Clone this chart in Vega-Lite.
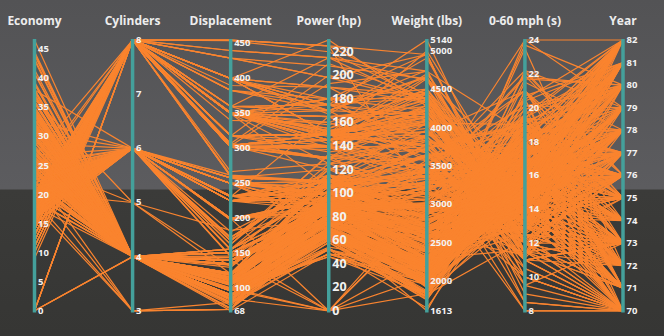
{
  "$schema": "https://vega.github.io/schema/vega-lite/v6.json",
  "width": 664,
  "height": 336,
  "autosize": {"type": "none"},
  "padding": 0,
  "background": "#474748",
  "config": {
    "view": {
      "stroke": null,
      "fill": {
        "gradient": "linear", "x1": 0, "y1": 0, "x2": 0, "y2": 1,
        "stops": [
          {"offset": 0, "color": "#535355"},
          {"offset": 0.562, "color": "#5c5c5f"},
          {"offset": 0.566, "color": "#3b3b39"},
          {"offset": 1, "color": "#363634"}
        ]
      }
    },
    "text": {"font": "Open Sans"}
  },
  "datasets": {
    "axes": [
      {"field": "mpg", "title": "Economy", "pos": 0, "lo": 0, "hi": 46.6},
      {"field": "cyl", "title": "Cylinders", "pos": 1, "lo": 3, "hi": 8},
      {"field": "disp", "title": "Displacement", "pos": 2, "lo": 68, "hi": 455},
      {"field": "hp", "title": "Power (hp)", "pos": 3, "lo": 0, "hi": 230},
      {"field": "wt", "title": "Weight (lbs)", "pos": 4, "lo": 1613, "hi": 5140},
      {"field": "acc", "title": "0-60 mph (s)", "pos": 5, "lo": 8, "hi": 24},
      {"field": "yr", "title": "Year", "pos": 6, "lo": 70, "hi": 82}
    ],
    "ticks": [
      {"field": "mpg", "v": 0}, {"field": "mpg", "v": 5}, {"field": "mpg", "v": 10}, {"field": "mpg", "v": 15}, {"field": "mpg", "v": 20},
      {"field": "mpg", "v": 25}, {"field": "mpg", "v": 30}, {"field": "mpg", "v": 35}, {"field": "mpg", "v": 40}, {"field": "mpg", "v": 45},
      {"field": "cyl", "v": 3}, {"field": "cyl", "v": 4}, {"field": "cyl", "v": 5}, {"field": "cyl", "v": 6}, {"field": "cyl", "v": 7}, {"field": "cyl", "v": 8},
      {"field": "disp", "v": 68}, {"field": "disp", "v": 100}, {"field": "disp", "v": 150}, {"field": "disp", "v": 200}, {"field": "disp", "v": 250},
      {"field": "disp", "v": 300}, {"field": "disp", "v": 350}, {"field": "disp", "v": 400}, {"field": "disp", "v": 450},
      {"field": "hp", "v": 0}, {"field": "hp", "v": 20}, {"field": "hp", "v": 40}, {"field": "hp", "v": 60}, {"field": "hp", "v": 80}, {"field": "hp", "v": 100},
      {"field": "hp", "v": 120}, {"field": "hp", "v": 140}, {"field": "hp", "v": 160}, {"field": "hp", "v": 180}, {"field": "hp", "v": 200}, {"field": "hp", "v": 220},
      {"field": "wt", "v": 1613}, {"field": "wt", "v": 2000}, {"field": "wt", "v": 2500}, {"field": "wt", "v": 3000}, {"field": "wt", "v": 3500},
      {"field": "wt", "v": 4000}, {"field": "wt", "v": 4500}, {"field": "wt", "v": 5000}, {"field": "wt", "v": 5140},
      {"field": "acc", "v": 8}, {"field": "acc", "v": 10}, {"field": "acc", "v": 12}, {"field": "acc", "v": 14}, {"field": "acc", "v": 16},
      {"field": "acc", "v": 18}, {"field": "acc", "v": 20}, {"field": "acc", "v": 22}, {"field": "acc", "v": 24},
      {"field": "yr", "v": 70}, {"field": "yr", "v": 71}, {"field": "yr", "v": 72}, {"field": "yr", "v": 73}, {"field": "yr", "v": 74}, {"field": "yr", "v": 75},
      {"field": "yr", "v": 76}, {"field": "yr", "v": 77}, {"field": "yr", "v": 78}, {"field": "yr", "v": 79}, {"field": "yr", "v": 80}, {"field": "yr", "v": 81}, {"field": "yr", "v": 82}
    ],
    "cars": [
      {"mpg":18,"cyl":8,"disp":307,"hp":130,"wt":3504,"acc":12,"yr":70},
      {"mpg":15,"cyl":8,"disp":350,"hp":165,"wt":3693,"acc":11.5,"yr":70},
      {"mpg":18,"cyl":8,"disp":318,"hp":150,"wt":3436,"acc":11,"yr":70},
      {"mpg":16,"cyl":8,"disp":304,"hp":150,"wt":3433,"acc":12,"yr":70},
      {"mpg":17,"cyl":8,"disp":302,"hp":140,"wt":3449,"acc":10.5,"yr":70},
      {"mpg":15,"cyl":8,"disp":429,"hp":198,"wt":4341,"acc":10,"yr":70},
      {"mpg":14,"cyl":8,"disp":454,"hp":220,"wt":4354,"acc":9,"yr":70},
      {"mpg":14,"cyl":8,"disp":440,"hp":215,"wt":4312,"acc":8.5,"yr":70},
      {"mpg":14,"cyl":8,"disp":455,"hp":225,"wt":4425,"acc":10,"yr":70},
      {"mpg":15,"cyl":8,"disp":390,"hp":190,"wt":3850,"acc":8.5,"yr":70},
      {"mpg":0,"cyl":4,"disp":133,"hp":115,"wt":3090,"acc":17.5,"yr":70},
      {"mpg":0,"cyl":8,"disp":350,"hp":165,"wt":4142,"acc":11.5,"yr":70},
      {"mpg":0,"cyl":8,"disp":351,"hp":153,"wt":4034,"acc":11,"yr":70},
      {"mpg":0,"cyl":8,"disp":383,"hp":175,"wt":4166,"acc":10.5,"yr":70},
      {"mpg":0,"cyl":8,"disp":360,"hp":175,"wt":3850,"acc":11,"yr":70},
      {"mpg":15,"cyl":8,"disp":383,"hp":170,"wt":3563,"acc":10,"yr":70},
      {"mpg":14,"cyl":8,"disp":340,"hp":160,"wt":3609,"acc":8,"yr":70},
      {"mpg":0,"cyl":8,"disp":302,"hp":140,"wt":3353,"acc":8,"yr":70},
      {"mpg":15,"cyl":8,"disp":400,"hp":150,"wt":3761,"acc":9.5,"yr":70},
      {"mpg":14,"cyl":8,"disp":455,"hp":225,"wt":3086,"acc":10,"yr":70},
      {"mpg":24,"cyl":4,"disp":113,"hp":95,"wt":2372,"acc":15,"yr":70},
      {"mpg":22,"cyl":6,"disp":198,"hp":95,"wt":2833,"acc":15.5,"yr":70},
      {"mpg":18,"cyl":6,"disp":199,"hp":97,"wt":2774,"acc":15.5,"yr":70},
      {"mpg":21,"cyl":6,"disp":200,"hp":85,"wt":2587,"acc":16,"yr":70},
      {"mpg":27,"cyl":4,"disp":97,"hp":88,"wt":2130,"acc":14.5,"yr":70},
      {"mpg":26,"cyl":4,"disp":97,"hp":46,"wt":1835,"acc":20.5,"yr":70},
      {"mpg":25,"cyl":4,"disp":110,"hp":87,"wt":2672,"acc":17.5,"yr":70},
      {"mpg":24,"cyl":4,"disp":107,"hp":90,"wt":2430,"acc":14.5,"yr":70},
      {"mpg":25,"cyl":4,"disp":104,"hp":95,"wt":2375,"acc":17.5,"yr":70},
      {"mpg":26,"cyl":4,"disp":121,"hp":113,"wt":2234,"acc":12.5,"yr":70},
      {"mpg":21,"cyl":6,"disp":199,"hp":90,"wt":2648,"acc":15,"yr":70},
      {"mpg":10,"cyl":8,"disp":360,"hp":215,"wt":4615,"acc":14,"yr":70},
      {"mpg":10,"cyl":8,"disp":307,"hp":200,"wt":4376,"acc":15,"yr":70},
      {"mpg":11,"cyl":8,"disp":318,"hp":210,"wt":4382,"acc":13.5,"yr":70},
      {"mpg":9,"cyl":8,"disp":304,"hp":193,"wt":4732,"acc":18.5,"yr":70},
      {"mpg":27,"cyl":4,"disp":97,"hp":88,"wt":2130,"acc":14.5,"yr":71},
      {"mpg":28,"cyl":4,"disp":140,"hp":90,"wt":2264,"acc":15.5,"yr":71},
      {"mpg":25,"cyl":4,"disp":113,"hp":95,"wt":2228,"acc":14,"yr":71},
      {"mpg":25,"cyl":4,"disp":98,"hp":0,"wt":2046,"acc":19,"yr":71},
      {"mpg":0,"cyl":4,"disp":97,"hp":48,"wt":1978,"acc":20,"yr":71},
      {"mpg":19,"cyl":6,"disp":232,"hp":100,"wt":2634,"acc":13,"yr":71},
      {"mpg":16,"cyl":6,"disp":225,"hp":105,"wt":3439,"acc":15.5,"yr":71},
      {"mpg":17,"cyl":6,"disp":250,"hp":100,"wt":3329,"acc":15.5,"yr":71},
      {"mpg":19,"cyl":6,"disp":250,"hp":88,"wt":3302,"acc":15.5,"yr":71},
      {"mpg":18,"cyl":6,"disp":232,"hp":100,"wt":3288,"acc":15.5,"yr":71},
      {"mpg":14,"cyl":8,"disp":350,"hp":165,"wt":4209,"acc":12,"yr":71},
      {"mpg":14,"cyl":8,"disp":400,"hp":175,"wt":4464,"acc":11.5,"yr":71},
      {"mpg":14,"cyl":8,"disp":351,"hp":153,"wt":4154,"acc":13.5,"yr":71},
      {"mpg":14,"cyl":8,"disp":318,"hp":150,"wt":4096,"acc":13,"yr":71},
      {"mpg":12,"cyl":8,"disp":383,"hp":180,"wt":4955,"acc":11.5,"yr":71},
      {"mpg":13,"cyl":8,"disp":400,"hp":170,"wt":4746,"acc":12,"yr":71},
      {"mpg":13,"cyl":8,"disp":400,"hp":175,"wt":5140,"acc":12,"yr":71},
      {"mpg":18,"cyl":6,"disp":258,"hp":110,"wt":2962,"acc":13.5,"yr":71},
      {"mpg":22,"cyl":4,"disp":140,"hp":72,"wt":2408,"acc":19,"yr":71},
      {"mpg":19,"cyl":6,"disp":250,"hp":100,"wt":3282,"acc":15,"yr":71},
      {"mpg":18,"cyl":6,"disp":250,"hp":88,"wt":3139,"acc":14.5,"yr":71},
      {"mpg":23,"cyl":4,"disp":122,"hp":86,"wt":2220,"acc":14,"yr":71},
      {"mpg":28,"cyl":4,"disp":116,"hp":90,"wt":2123,"acc":14,"yr":71},
      {"mpg":30,"cyl":4,"disp":79,"hp":70,"wt":2074,"acc":19.5,"yr":71},
      {"mpg":30,"cyl":4,"disp":88,"hp":76,"wt":2065,"acc":14.5,"yr":71},
      {"mpg":31,"cyl":4,"disp":71,"hp":65,"wt":1773,"acc":19,"yr":71},
      {"mpg":35,"cyl":4,"disp":72,"hp":69,"wt":1613,"acc":18,"yr":71},
      {"mpg":27,"cyl":4,"disp":97,"hp":60,"wt":1834,"acc":19,"yr":71},
      {"mpg":26,"cyl":4,"disp":91,"hp":70,"wt":1955,"acc":20.5,"yr":71},
      {"mpg":24,"cyl":4,"disp":113,"hp":95,"wt":2278,"acc":15.5,"yr":72},
      {"mpg":25,"cyl":4,"disp":97.5,"hp":80,"wt":2126,"acc":17,"yr":72},
      {"mpg":23,"cyl":4,"disp":97,"hp":54,"wt":2254,"acc":23.5,"yr":72},
      {"mpg":20,"cyl":4,"disp":140,"hp":90,"wt":2408,"acc":19.5,"yr":72},
      {"mpg":21,"cyl":4,"disp":122,"hp":86,"wt":2226,"acc":16.5,"yr":72},
      {"mpg":13,"cyl":8,"disp":350,"hp":165,"wt":4274,"acc":12,"yr":72},
      {"mpg":14,"cyl":8,"disp":400,"hp":175,"wt":4385,"acc":12,"yr":72},
      {"mpg":15,"cyl":8,"disp":318,"hp":150,"wt":4135,"acc":13.5,"yr":72},
      {"mpg":14,"cyl":8,"disp":351,"hp":153,"wt":4129,"acc":13,"yr":72},
      {"mpg":17,"cyl":8,"disp":304,"hp":150,"wt":3672,"acc":11.5,"yr":72},
      {"mpg":11,"cyl":8,"disp":429,"hp":208,"wt":4633,"acc":11,"yr":72},
      {"mpg":13,"cyl":8,"disp":350,"hp":155,"wt":4502,"acc":13.5,"yr":72},
      {"mpg":12,"cyl":8,"disp":350,"hp":160,"wt":4456,"acc":13.5,"yr":72},
      {"mpg":13,"cyl":8,"disp":400,"hp":190,"wt":4422,"acc":12.5,"yr":72},
      {"mpg":19,"cyl":3,"disp":70,"hp":97,"wt":2330,"acc":13.5,"yr":72},
      {"mpg":15,"cyl":8,"disp":304,"hp":150,"wt":3892,"acc":12.5,"yr":72},
      {"mpg":13,"cyl":8,"disp":307,"hp":130,"wt":4098,"acc":14,"yr":72},
      {"mpg":13,"cyl":8,"disp":302,"hp":140,"wt":4294,"acc":16,"yr":72},
      {"mpg":14,"cyl":8,"disp":318,"hp":150,"wt":4077,"acc":14,"yr":72},
      {"mpg":18,"cyl":4,"disp":121,"hp":112,"wt":2933,"acc":14.5,"yr":72},
      {"mpg":22,"cyl":4,"disp":121,"hp":76,"wt":2511,"acc":18,"yr":72},
      {"mpg":21,"cyl":4,"disp":120,"hp":87,"wt":2979,"acc":19.5,"yr":72},
      {"mpg":26,"cyl":4,"disp":96,"hp":69,"wt":2189,"acc":18,"yr":72},
      {"mpg":22,"cyl":4,"disp":122,"hp":86,"wt":2395,"acc":16,"yr":72},
      {"mpg":28,"cyl":4,"disp":97,"hp":92,"wt":2288,"acc":17,"yr":72},
      {"mpg":23,"cyl":4,"disp":120,"hp":97,"wt":2506,"acc":14.5,"yr":72},
      {"mpg":28,"cyl":4,"disp":98,"hp":80,"wt":2164,"acc":15,"yr":72},
      {"mpg":27,"cyl":4,"disp":97,"hp":88,"wt":2100,"acc":16.5,"yr":72},
      {"mpg":13,"cyl":8,"disp":350,"hp":175,"wt":4100,"acc":13,"yr":73},
      {"mpg":14,"cyl":8,"disp":304,"hp":150,"wt":3672,"acc":11.5,"yr":73},
      {"mpg":13,"cyl":8,"disp":350,"hp":145,"wt":3988,"acc":13,"yr":73},
      {"mpg":14,"cyl":8,"disp":302,"hp":137,"wt":4042,"acc":14.5,"yr":73},
      {"mpg":15,"cyl":8,"disp":318,"hp":150,"wt":3777,"acc":12.5,"yr":73},
      {"mpg":12,"cyl":8,"disp":429,"hp":198,"wt":4952,"acc":11.5,"yr":73},
      {"mpg":13,"cyl":8,"disp":400,"hp":150,"wt":4464,"acc":12,"yr":73},
      {"mpg":13,"cyl":8,"disp":351,"hp":158,"wt":4363,"acc":13,"yr":73},
      {"mpg":14,"cyl":8,"disp":318,"hp":150,"wt":4237,"acc":14.5,"yr":73},
      {"mpg":13,"cyl":8,"disp":440,"hp":215,"wt":4735,"acc":11,"yr":73},
      {"mpg":12,"cyl":8,"disp":455,"hp":225,"wt":4951,"acc":11,"yr":73},
      {"mpg":13,"cyl":8,"disp":360,"hp":175,"wt":3821,"acc":11,"yr":73},
      {"mpg":18,"cyl":6,"disp":225,"hp":105,"wt":3121,"acc":16.5,"yr":73},
      {"mpg":16,"cyl":6,"disp":250,"hp":100,"wt":3278,"acc":18,"yr":73},
      {"mpg":18,"cyl":6,"disp":232,"hp":100,"wt":2945,"acc":16,"yr":73},
      {"mpg":18,"cyl":6,"disp":250,"hp":88,"wt":3021,"acc":16.5,"yr":73},
      {"mpg":23,"cyl":6,"disp":198,"hp":95,"wt":2904,"acc":16,"yr":73},
      {"mpg":26,"cyl":4,"disp":97,"hp":46,"wt":1950,"acc":21,"yr":73},
      {"mpg":11,"cyl":8,"disp":400,"hp":150,"wt":4997,"acc":14,"yr":73},
      {"mpg":12,"cyl":8,"disp":400,"hp":167,"wt":4906,"acc":12.5,"yr":73},
      {"mpg":13,"cyl":8,"disp":360,"hp":170,"wt":4654,"acc":13,"yr":73},
      {"mpg":12,"cyl":8,"disp":350,"hp":180,"wt":4499,"acc":12.5,"yr":73},
      {"mpg":18,"cyl":6,"disp":232,"hp":100,"wt":2789,"acc":15,"yr":73},
      {"mpg":20,"cyl":4,"disp":97,"hp":88,"wt":2279,"acc":19,"yr":73},
      {"mpg":21,"cyl":4,"disp":140,"hp":72,"wt":2401,"acc":19.5,"yr":73},
      {"mpg":22,"cyl":4,"disp":108,"hp":94,"wt":2379,"acc":16.5,"yr":73},
      {"mpg":18,"cyl":3,"disp":70,"hp":90,"wt":2124,"acc":13.5,"yr":73},
      {"mpg":19,"cyl":4,"disp":122,"hp":85,"wt":2310,"acc":18.5,"yr":73},
      {"mpg":21,"cyl":6,"disp":155,"hp":107,"wt":2472,"acc":14,"yr":73},
      {"mpg":26,"cyl":4,"disp":98,"hp":90,"wt":2265,"acc":15.5,"yr":73},
      {"mpg":15,"cyl":8,"disp":350,"hp":145,"wt":4082,"acc":13,"yr":73},
      {"mpg":16,"cyl":8,"disp":400,"hp":230,"wt":4278,"acc":9.5,"yr":73},
      {"mpg":29,"cyl":4,"disp":68,"hp":49,"wt":1867,"acc":19.5,"yr":73},
      {"mpg":24,"cyl":4,"disp":116,"hp":75,"wt":2158,"acc":15.5,"yr":73},
      {"mpg":20,"cyl":4,"disp":114,"hp":91,"wt":2582,"acc":14,"yr":73},
      {"mpg":19,"cyl":4,"disp":121,"hp":112,"wt":2868,"acc":15.5,"yr":73},
      {"mpg":15,"cyl":8,"disp":318,"hp":150,"wt":3399,"acc":11,"yr":73},
      {"mpg":24,"cyl":4,"disp":121,"hp":110,"wt":2660,"acc":14,"yr":73},
      {"mpg":20,"cyl":6,"disp":156,"hp":122,"wt":2807,"acc":13.5,"yr":73},
      {"mpg":11,"cyl":8,"disp":350,"hp":180,"wt":3664,"acc":11,"yr":73},
      {"mpg":20,"cyl":6,"disp":198,"hp":95,"wt":3102,"acc":16.5,"yr":74},
      {"mpg":21,"cyl":6,"disp":200,"hp":0,"wt":2875,"acc":17,"yr":74},
      {"mpg":19,"cyl":6,"disp":232,"hp":100,"wt":2901,"acc":16,"yr":74},
      {"mpg":15,"cyl":6,"disp":250,"hp":100,"wt":3336,"acc":17,"yr":74},
      {"mpg":31,"cyl":4,"disp":79,"hp":67,"wt":1950,"acc":19,"yr":74},
      {"mpg":26,"cyl":4,"disp":122,"hp":80,"wt":2451,"acc":16.5,"yr":74},
      {"mpg":32,"cyl":4,"disp":71,"hp":65,"wt":1836,"acc":21,"yr":74},
      {"mpg":25,"cyl":4,"disp":140,"hp":75,"wt":2542,"acc":17,"yr":74},
      {"mpg":16,"cyl":6,"disp":250,"hp":100,"wt":3781,"acc":17,"yr":74},
      {"mpg":16,"cyl":6,"disp":258,"hp":110,"wt":3632,"acc":18,"yr":74},
      {"mpg":18,"cyl":6,"disp":225,"hp":105,"wt":3613,"acc":16.5,"yr":74},
      {"mpg":16,"cyl":8,"disp":302,"hp":140,"wt":4141,"acc":14,"yr":74},
      {"mpg":13,"cyl":8,"disp":350,"hp":150,"wt":4699,"acc":14.5,"yr":74},
      {"mpg":14,"cyl":8,"disp":318,"hp":150,"wt":4457,"acc":13.5,"yr":74},
      {"mpg":14,"cyl":8,"disp":302,"hp":140,"wt":4638,"acc":16,"yr":74},
      {"mpg":14,"cyl":8,"disp":304,"hp":150,"wt":4257,"acc":15.5,"yr":74},
      {"mpg":29,"cyl":4,"disp":98,"hp":83,"wt":2219,"acc":16.5,"yr":74},
      {"mpg":26,"cyl":4,"disp":79,"hp":67,"wt":1963,"acc":15.5,"yr":74},
      {"mpg":26,"cyl":4,"disp":97,"hp":78,"wt":2300,"acc":14.5,"yr":74},
      {"mpg":31,"cyl":4,"disp":76,"hp":52,"wt":1649,"acc":16.5,"yr":74},
      {"mpg":32,"cyl":4,"disp":83,"hp":61,"wt":2003,"acc":19,"yr":74},
      {"mpg":28,"cyl":4,"disp":90,"hp":75,"wt":2125,"acc":14.5,"yr":74},
      {"mpg":24,"cyl":4,"disp":90,"hp":75,"wt":2108,"acc":15.5,"yr":74},
      {"mpg":26,"cyl":4,"disp":116,"hp":75,"wt":2246,"acc":14,"yr":74},
      {"mpg":24,"cyl":4,"disp":120,"hp":97,"wt":2489,"acc":15,"yr":74},
      {"mpg":26,"cyl":4,"disp":108,"hp":93,"wt":2391,"acc":15.5,"yr":74},
      {"mpg":31,"cyl":4,"disp":79,"hp":67,"wt":2000,"acc":16,"yr":74},
      {"mpg":19,"cyl":6,"disp":225,"hp":95,"wt":3264,"acc":16,"yr":75},
      {"mpg":18,"cyl":6,"disp":250,"hp":105,"wt":3459,"acc":16,"yr":75},
      {"mpg":15,"cyl":6,"disp":250,"hp":72,"wt":3432,"acc":21,"yr":75},
      {"mpg":15,"cyl":6,"disp":250,"hp":72,"wt":3158,"acc":19.5,"yr":75},
      {"mpg":16,"cyl":8,"disp":400,"hp":170,"wt":4668,"acc":11.5,"yr":75},
      {"mpg":15,"cyl":8,"disp":350,"hp":145,"wt":4440,"acc":14,"yr":75},
      {"mpg":16,"cyl":8,"disp":318,"hp":150,"wt":4498,"acc":14.5,"yr":75},
      {"mpg":14,"cyl":8,"disp":351,"hp":148,"wt":4657,"acc":13.5,"yr":75},
      {"mpg":17,"cyl":6,"disp":231,"hp":110,"wt":3907,"acc":21,"yr":75},
      {"mpg":16,"cyl":6,"disp":250,"hp":105,"wt":3897,"acc":18.5,"yr":75},
      {"mpg":15,"cyl":6,"disp":258,"hp":110,"wt":3730,"acc":19,"yr":75},
      {"mpg":18,"cyl":6,"disp":225,"hp":95,"wt":3785,"acc":19,"yr":75},
      {"mpg":21,"cyl":6,"disp":231,"hp":110,"wt":3039,"acc":15,"yr":75},
      {"mpg":20,"cyl":8,"disp":262,"hp":110,"wt":3221,"acc":13.5,"yr":75},
      {"mpg":13,"cyl":8,"disp":302,"hp":129,"wt":3169,"acc":12,"yr":75},
      {"mpg":29,"cyl":4,"disp":97,"hp":75,"wt":2171,"acc":16,"yr":75},
      {"mpg":23,"cyl":4,"disp":140,"hp":83,"wt":2639,"acc":17,"yr":75},
      {"mpg":20,"cyl":6,"disp":232,"hp":100,"wt":2914,"acc":16,"yr":75},
      {"mpg":23,"cyl":4,"disp":140,"hp":78,"wt":2592,"acc":18.5,"yr":75},
      {"mpg":24,"cyl":4,"disp":134,"hp":96,"wt":2702,"acc":13.5,"yr":75},
      {"mpg":25,"cyl":4,"disp":90,"hp":71,"wt":2223,"acc":16.5,"yr":75},
      {"mpg":24,"cyl":4,"disp":119,"hp":97,"wt":2545,"acc":17,"yr":75},
      {"mpg":18,"cyl":6,"disp":171,"hp":97,"wt":2984,"acc":14.5,"yr":75},
      {"mpg":29,"cyl":4,"disp":90,"hp":70,"wt":1937,"acc":14,"yr":75},
      {"mpg":19,"cyl":6,"disp":232,"hp":90,"wt":3211,"acc":17,"yr":75},
      {"mpg":23,"cyl":4,"disp":115,"hp":95,"wt":2694,"acc":15,"yr":75},
      {"mpg":23,"cyl":4,"disp":120,"hp":88,"wt":2957,"acc":17,"yr":75},
      {"mpg":22,"cyl":4,"disp":121,"hp":98,"wt":2945,"acc":14.5,"yr":75},
      {"mpg":25,"cyl":4,"disp":121,"hp":115,"wt":2671,"acc":13.5,"yr":75},
      {"mpg":33,"cyl":4,"disp":91,"hp":53,"wt":1795,"acc":17.5,"yr":75},
      {"mpg":28,"cyl":4,"disp":107,"hp":86,"wt":2464,"acc":15.5,"yr":76},
      {"mpg":25,"cyl":4,"disp":116,"hp":81,"wt":2220,"acc":16.9,"yr":76},
      {"mpg":25,"cyl":4,"disp":140,"hp":92,"wt":2572,"acc":14.9,"yr":76},
      {"mpg":26,"cyl":4,"disp":98,"hp":79,"wt":2255,"acc":17.7,"yr":76},
      {"mpg":27,"cyl":4,"disp":101,"hp":83,"wt":2202,"acc":15.3,"yr":76},
      {"mpg":17.5,"cyl":8,"disp":305,"hp":140,"wt":4215,"acc":13,"yr":76},
      {"mpg":16,"cyl":8,"disp":318,"hp":150,"wt":4190,"acc":13,"yr":76},
      {"mpg":15.5,"cyl":8,"disp":304,"hp":120,"wt":3962,"acc":13.9,"yr":76},
      {"mpg":14.5,"cyl":8,"disp":351,"hp":152,"wt":4215,"acc":12.8,"yr":76},
      {"mpg":22,"cyl":6,"disp":225,"hp":100,"wt":3233,"acc":15.4,"yr":76},
      {"mpg":22,"cyl":6,"disp":250,"hp":105,"wt":3353,"acc":14.5,"yr":76},
      {"mpg":24,"cyl":6,"disp":200,"hp":81,"wt":3012,"acc":17.6,"yr":76},
      {"mpg":22.5,"cyl":6,"disp":232,"hp":90,"wt":3085,"acc":17.6,"yr":76},
      {"mpg":29,"cyl":4,"disp":85,"hp":52,"wt":2035,"acc":22.2,"yr":76},
      {"mpg":24.5,"cyl":4,"disp":98,"hp":60,"wt":2164,"acc":22.1,"yr":76},
      {"mpg":29,"cyl":4,"disp":90,"hp":70,"wt":1937,"acc":14.2,"yr":76},
      {"mpg":33,"cyl":4,"disp":91,"hp":53,"wt":1795,"acc":17.4,"yr":76},
      {"mpg":20,"cyl":6,"disp":225,"hp":100,"wt":3651,"acc":17.7,"yr":76},
      {"mpg":18,"cyl":6,"disp":250,"hp":78,"wt":3574,"acc":21,"yr":76},
      {"mpg":18.5,"cyl":6,"disp":250,"hp":110,"wt":3645,"acc":16.2,"yr":76},
      {"mpg":17.5,"cyl":6,"disp":258,"hp":95,"wt":3193,"acc":17.8,"yr":76},
      {"mpg":29.5,"cyl":4,"disp":97,"hp":71,"wt":1825,"acc":12.2,"yr":76},
      {"mpg":32,"cyl":4,"disp":85,"hp":70,"wt":1990,"acc":17,"yr":76},
      {"mpg":28,"cyl":4,"disp":97,"hp":75,"wt":2155,"acc":16.4,"yr":76},
      {"mpg":26.5,"cyl":4,"disp":140,"hp":72,"wt":2565,"acc":13.6,"yr":76},
      {"mpg":20,"cyl":4,"disp":130,"hp":102,"wt":3150,"acc":15.7,"yr":76},
      {"mpg":13,"cyl":8,"disp":318,"hp":150,"wt":3940,"acc":13.2,"yr":76},
      {"mpg":19,"cyl":4,"disp":120,"hp":88,"wt":3270,"acc":21.9,"yr":76},
      {"mpg":19,"cyl":6,"disp":156,"hp":108,"wt":2930,"acc":15.5,"yr":76},
      {"mpg":16.5,"cyl":6,"disp":168,"hp":120,"wt":3820,"acc":16.7,"yr":76},
      {"mpg":16.5,"cyl":8,"disp":350,"hp":180,"wt":4380,"acc":12.1,"yr":76},
      {"mpg":13,"cyl":8,"disp":350,"hp":145,"wt":4055,"acc":12,"yr":76},
      {"mpg":13,"cyl":8,"disp":302,"hp":130,"wt":3870,"acc":15,"yr":76},
      {"mpg":13,"cyl":8,"disp":318,"hp":150,"wt":3755,"acc":14,"yr":76},
      {"mpg":31.5,"cyl":4,"disp":98,"hp":68,"wt":2045,"acc":18.5,"yr":77},
      {"mpg":30,"cyl":4,"disp":111,"hp":80,"wt":2155,"acc":14.8,"yr":77},
      {"mpg":36,"cyl":4,"disp":79,"hp":58,"wt":1825,"acc":18.6,"yr":77},
      {"mpg":25.5,"cyl":4,"disp":122,"hp":96,"wt":2300,"acc":15.5,"yr":77},
      {"mpg":33.5,"cyl":4,"disp":85,"hp":70,"wt":1945,"acc":16.8,"yr":77},
      {"mpg":17.5,"cyl":8,"disp":305,"hp":145,"wt":3880,"acc":12.5,"yr":77},
      {"mpg":17,"cyl":8,"disp":260,"hp":110,"wt":4060,"acc":19,"yr":77},
      {"mpg":15.5,"cyl":8,"disp":318,"hp":145,"wt":4140,"acc":13.7,"yr":77},
      {"mpg":15,"cyl":8,"disp":302,"hp":130,"wt":4295,"acc":14.9,"yr":77},
      {"mpg":17.5,"cyl":6,"disp":250,"hp":110,"wt":3520,"acc":16.4,"yr":77},
      {"mpg":20.5,"cyl":6,"disp":231,"hp":105,"wt":3425,"acc":16.9,"yr":77},
      {"mpg":19,"cyl":6,"disp":225,"hp":100,"wt":3630,"acc":17.7,"yr":77},
      {"mpg":18.5,"cyl":6,"disp":250,"hp":98,"wt":3525,"acc":19,"yr":77},
      {"mpg":16,"cyl":8,"disp":400,"hp":180,"wt":4220,"acc":11.1,"yr":77},
      {"mpg":15.5,"cyl":8,"disp":350,"hp":170,"wt":4165,"acc":11.4,"yr":77},
      {"mpg":15.5,"cyl":8,"disp":400,"hp":190,"wt":4325,"acc":12.2,"yr":77},
      {"mpg":16,"cyl":8,"disp":351,"hp":149,"wt":4335,"acc":14.5,"yr":77},
      {"mpg":29,"cyl":4,"disp":97,"hp":78,"wt":1940,"acc":14.5,"yr":77},
      {"mpg":24.5,"cyl":4,"disp":151,"hp":88,"wt":2740,"acc":16,"yr":77},
      {"mpg":26,"cyl":4,"disp":97,"hp":75,"wt":2265,"acc":18.2,"yr":77},
      {"mpg":25.5,"cyl":4,"disp":140,"hp":89,"wt":2755,"acc":15.8,"yr":77},
      {"mpg":30.5,"cyl":4,"disp":98,"hp":63,"wt":2051,"acc":17,"yr":77},
      {"mpg":33.5,"cyl":4,"disp":98,"hp":83,"wt":2075,"acc":15.9,"yr":77},
      {"mpg":30,"cyl":4,"disp":97,"hp":67,"wt":1985,"acc":16.4,"yr":77},
      {"mpg":30.5,"cyl":4,"disp":97,"hp":78,"wt":2190,"acc":14.1,"yr":77},
      {"mpg":22,"cyl":6,"disp":146,"hp":97,"wt":2815,"acc":14.5,"yr":77},
      {"mpg":21.5,"cyl":4,"disp":121,"hp":110,"wt":2600,"acc":12.8,"yr":77},
      {"mpg":21.5,"cyl":3,"disp":80,"hp":110,"wt":2720,"acc":13.5,"yr":77},
      {"mpg":43.1,"cyl":4,"disp":90,"hp":48,"wt":1985,"acc":21.5,"yr":78},
      {"mpg":36.1,"cyl":4,"disp":98,"hp":66,"wt":1800,"acc":14.4,"yr":78},
      {"mpg":32.8,"cyl":4,"disp":78,"hp":52,"wt":1985,"acc":19.4,"yr":78},
      {"mpg":39.4,"cyl":4,"disp":85,"hp":70,"wt":2070,"acc":18.6,"yr":78},
      {"mpg":36.1,"cyl":4,"disp":91,"hp":60,"wt":1800,"acc":16.4,"yr":78},
      {"mpg":19.9,"cyl":8,"disp":260,"hp":110,"wt":3365,"acc":15.5,"yr":78},
      {"mpg":19.4,"cyl":8,"disp":318,"hp":140,"wt":3735,"acc":13.2,"yr":78},
      {"mpg":20.2,"cyl":8,"disp":302,"hp":139,"wt":3570,"acc":12.8,"yr":78},
      {"mpg":19.2,"cyl":6,"disp":231,"hp":105,"wt":3535,"acc":19.2,"yr":78},
      {"mpg":20.5,"cyl":6,"disp":200,"hp":95,"wt":3155,"acc":18.2,"yr":78},
      {"mpg":20.2,"cyl":6,"disp":200,"hp":85,"wt":2965,"acc":15.8,"yr":78},
      {"mpg":25.1,"cyl":4,"disp":140,"hp":88,"wt":2720,"acc":15.4,"yr":78},
      {"mpg":20.5,"cyl":6,"disp":225,"hp":100,"wt":3430,"acc":17.2,"yr":78},
      {"mpg":19.4,"cyl":6,"disp":232,"hp":90,"wt":3210,"acc":17.2,"yr":78},
      {"mpg":20.6,"cyl":6,"disp":231,"hp":105,"wt":3380,"acc":15.8,"yr":78},
      {"mpg":20.8,"cyl":6,"disp":200,"hp":85,"wt":3070,"acc":16.7,"yr":78},
      {"mpg":18.6,"cyl":6,"disp":225,"hp":110,"wt":3620,"acc":18.7,"yr":78},
      {"mpg":18.1,"cyl":6,"disp":258,"hp":120,"wt":3410,"acc":15.1,"yr":78},
      {"mpg":19.2,"cyl":8,"disp":305,"hp":145,"wt":3425,"acc":13.2,"yr":78},
      {"mpg":17.7,"cyl":6,"disp":231,"hp":165,"wt":3445,"acc":13.4,"yr":78},
      {"mpg":18.1,"cyl":8,"disp":302,"hp":139,"wt":3205,"acc":11.2,"yr":78},
      {"mpg":17.5,"cyl":8,"disp":318,"hp":140,"wt":4080,"acc":13.7,"yr":78},
      {"mpg":30,"cyl":4,"disp":98,"hp":68,"wt":2155,"acc":16.5,"yr":78},
      {"mpg":27.5,"cyl":4,"disp":134,"hp":95,"wt":2560,"acc":14.2,"yr":78},
      {"mpg":27.2,"cyl":4,"disp":119,"hp":97,"wt":2300,"acc":14.7,"yr":78},
      {"mpg":30.9,"cyl":4,"disp":105,"hp":75,"wt":2230,"acc":14.5,"yr":78},
      {"mpg":21.1,"cyl":4,"disp":134,"hp":95,"wt":2515,"acc":14.8,"yr":78},
      {"mpg":23.2,"cyl":4,"disp":156,"hp":105,"wt":2745,"acc":16.7,"yr":78},
      {"mpg":23.8,"cyl":4,"disp":151,"hp":85,"wt":2855,"acc":17.6,"yr":78},
      {"mpg":23.9,"cyl":4,"disp":119,"hp":97,"wt":2405,"acc":14.9,"yr":78},
      {"mpg":20.3,"cyl":5,"disp":131,"hp":103,"wt":2830,"acc":15.9,"yr":78},
      {"mpg":17,"cyl":6,"disp":163,"hp":125,"wt":3140,"acc":13.6,"yr":78},
      {"mpg":21.6,"cyl":4,"disp":121,"hp":115,"wt":2795,"acc":15.7,"yr":78},
      {"mpg":16.2,"cyl":6,"disp":163,"hp":133,"wt":3410,"acc":15.8,"yr":78},
      {"mpg":31.5,"cyl":4,"disp":89,"hp":71,"wt":1990,"acc":14.9,"yr":78},
      {"mpg":29.5,"cyl":4,"disp":98,"hp":68,"wt":2135,"acc":16.6,"yr":78},
      {"mpg":21.5,"cyl":6,"disp":231,"hp":115,"wt":3245,"acc":15.4,"yr":79},
      {"mpg":19.8,"cyl":6,"disp":200,"hp":85,"wt":2990,"acc":18.2,"yr":79},
      {"mpg":22.3,"cyl":4,"disp":140,"hp":88,"wt":2890,"acc":17.3,"yr":79},
      {"mpg":20.2,"cyl":6,"disp":232,"hp":90,"wt":3265,"acc":18.2,"yr":79},
      {"mpg":20.6,"cyl":6,"disp":225,"hp":110,"wt":3360,"acc":16.6,"yr":79},
      {"mpg":17,"cyl":8,"disp":305,"hp":130,"wt":3840,"acc":15.4,"yr":79},
      {"mpg":17.6,"cyl":8,"disp":302,"hp":129,"wt":3725,"acc":13.4,"yr":79},
      {"mpg":16.5,"cyl":8,"disp":351,"hp":138,"wt":3955,"acc":13.2,"yr":79},
      {"mpg":18.2,"cyl":8,"disp":318,"hp":135,"wt":3830,"acc":15.2,"yr":79},
      {"mpg":16.9,"cyl":8,"disp":350,"hp":155,"wt":4360,"acc":14.9,"yr":79},
      {"mpg":15.5,"cyl":8,"disp":351,"hp":142,"wt":4054,"acc":14.3,"yr":79},
      {"mpg":19.2,"cyl":8,"disp":267,"hp":125,"wt":3605,"acc":15,"yr":79},
      {"mpg":18.5,"cyl":8,"disp":360,"hp":150,"wt":3940,"acc":13,"yr":79},
      {"mpg":31.9,"cyl":4,"disp":89,"hp":71,"wt":1925,"acc":14,"yr":79},
      {"mpg":34.1,"cyl":4,"disp":86,"hp":65,"wt":1975,"acc":15.2,"yr":79},
      {"mpg":35.7,"cyl":4,"disp":98,"hp":80,"wt":1915,"acc":14.4,"yr":79},
      {"mpg":27.4,"cyl":4,"disp":121,"hp":80,"wt":2670,"acc":15,"yr":79},
      {"mpg":25.4,"cyl":5,"disp":183,"hp":77,"wt":3530,"acc":20.1,"yr":79},
      {"mpg":23,"cyl":8,"disp":350,"hp":125,"wt":3900,"acc":17.4,"yr":79},
      {"mpg":27.2,"cyl":4,"disp":141,"hp":71,"wt":3190,"acc":24.8,"yr":79},
      {"mpg":23.9,"cyl":8,"disp":260,"hp":90,"wt":3420,"acc":22.2,"yr":79},
      {"mpg":34.2,"cyl":4,"disp":105,"hp":70,"wt":2200,"acc":13.2,"yr":79},
      {"mpg":34.5,"cyl":4,"disp":105,"hp":70,"wt":2150,"acc":14.9,"yr":79},
      {"mpg":31.8,"cyl":4,"disp":85,"hp":65,"wt":2020,"acc":19.2,"yr":79},
      {"mpg":37.3,"cyl":4,"disp":91,"hp":69,"wt":2130,"acc":14.7,"yr":79},
      {"mpg":28.4,"cyl":4,"disp":151,"hp":90,"wt":2670,"acc":16,"yr":79},
      {"mpg":28.8,"cyl":6,"disp":173,"hp":115,"wt":2595,"acc":11.3,"yr":79},
      {"mpg":26.8,"cyl":6,"disp":173,"hp":115,"wt":2700,"acc":12.9,"yr":79},
      {"mpg":33.5,"cyl":4,"disp":151,"hp":90,"wt":2556,"acc":13.2,"yr":79},
      {"mpg":41.5,"cyl":4,"disp":98,"hp":76,"wt":2144,"acc":14.7,"yr":80},
      {"mpg":38.1,"cyl":4,"disp":89,"hp":60,"wt":1968,"acc":18.8,"yr":80},
      {"mpg":32.1,"cyl":4,"disp":98,"hp":70,"wt":2120,"acc":15.5,"yr":80},
      {"mpg":37.2,"cyl":4,"disp":86,"hp":65,"wt":2019,"acc":16.4,"yr":80},
      {"mpg":28,"cyl":4,"disp":151,"hp":90,"wt":2678,"acc":16.5,"yr":80},
      {"mpg":26.4,"cyl":4,"disp":140,"hp":88,"wt":2870,"acc":18.1,"yr":80},
      {"mpg":24.3,"cyl":4,"disp":151,"hp":90,"wt":3003,"acc":20.1,"yr":80},
      {"mpg":19.1,"cyl":6,"disp":225,"hp":90,"wt":3381,"acc":18.7,"yr":80},
      {"mpg":34.3,"cyl":4,"disp":97,"hp":78,"wt":2188,"acc":15.8,"yr":80},
      {"mpg":29.8,"cyl":4,"disp":134,"hp":90,"wt":2711,"acc":15.5,"yr":80},
      {"mpg":31.3,"cyl":4,"disp":120,"hp":75,"wt":2542,"acc":17.5,"yr":80},
      {"mpg":37,"cyl":4,"disp":119,"hp":92,"wt":2434,"acc":15,"yr":80},
      {"mpg":32.2,"cyl":4,"disp":108,"hp":75,"wt":2265,"acc":15.2,"yr":80},
      {"mpg":46.6,"cyl":4,"disp":86,"hp":65,"wt":2110,"acc":17.9,"yr":80},
      {"mpg":27.9,"cyl":4,"disp":156,"hp":105,"wt":2800,"acc":14.4,"yr":80},
      {"mpg":40.8,"cyl":4,"disp":85,"hp":65,"wt":2110,"acc":19.2,"yr":80},
      {"mpg":44.3,"cyl":4,"disp":90,"hp":48,"wt":2085,"acc":21.7,"yr":80},
      {"mpg":43.4,"cyl":4,"disp":90,"hp":48,"wt":2335,"acc":23.7,"yr":80},
      {"mpg":36.4,"cyl":5,"disp":121,"hp":67,"wt":2950,"acc":19.9,"yr":80},
      {"mpg":30,"cyl":4,"disp":146,"hp":67,"wt":3250,"acc":21.8,"yr":80},
      {"mpg":44.6,"cyl":4,"disp":91,"hp":67,"wt":1850,"acc":13.8,"yr":80},
      {"mpg":40.9,"cyl":4,"disp":85,"hp":0,"wt":1835,"acc":17.3,"yr":80},
      {"mpg":33.8,"cyl":4,"disp":97,"hp":67,"wt":2145,"acc":18,"yr":80},
      {"mpg":29.8,"cyl":4,"disp":89,"hp":62,"wt":1845,"acc":15.3,"yr":80},
      {"mpg":32.7,"cyl":6,"disp":168,"hp":132,"wt":2910,"acc":11.4,"yr":80},
      {"mpg":23.7,"cyl":3,"disp":70,"hp":100,"wt":2420,"acc":12.5,"yr":80},
      {"mpg":35,"cyl":4,"disp":122,"hp":88,"wt":2500,"acc":15.1,"yr":80},
      {"mpg":23.6,"cyl":4,"disp":140,"hp":0,"wt":2905,"acc":14.3,"yr":80},
      {"mpg":32.4,"cyl":4,"disp":107,"hp":72,"wt":2290,"acc":17,"yr":80},
      {"mpg":27.2,"cyl":4,"disp":135,"hp":84,"wt":2490,"acc":15.7,"yr":81},
      {"mpg":26.6,"cyl":4,"disp":151,"hp":84,"wt":2635,"acc":16.4,"yr":81},
      {"mpg":25.8,"cyl":4,"disp":156,"hp":92,"wt":2620,"acc":14.4,"yr":81},
      {"mpg":23.5,"cyl":6,"disp":173,"hp":110,"wt":2725,"acc":12.6,"yr":81},
      {"mpg":30,"cyl":4,"disp":135,"hp":84,"wt":2385,"acc":12.9,"yr":81},
      {"mpg":39.1,"cyl":4,"disp":79,"hp":58,"wt":1755,"acc":16.9,"yr":81},
      {"mpg":39,"cyl":4,"disp":86,"hp":64,"wt":1875,"acc":16.4,"yr":81},
      {"mpg":35.1,"cyl":4,"disp":81,"hp":60,"wt":1760,"acc":16.1,"yr":81},
      {"mpg":32.3,"cyl":4,"disp":97,"hp":67,"wt":2065,"acc":17.8,"yr":81},
      {"mpg":37,"cyl":4,"disp":85,"hp":65,"wt":1975,"acc":19.4,"yr":81},
      {"mpg":37.7,"cyl":4,"disp":89,"hp":62,"wt":2050,"acc":17.3,"yr":81},
      {"mpg":34.1,"cyl":4,"disp":91,"hp":68,"wt":1985,"acc":16,"yr":81},
      {"mpg":34.7,"cyl":4,"disp":105,"hp":63,"wt":2215,"acc":14.9,"yr":81},
      {"mpg":34.4,"cyl":4,"disp":98,"hp":65,"wt":2045,"acc":16.2,"yr":81},
      {"mpg":29.9,"cyl":4,"disp":98,"hp":65,"wt":2380,"acc":20.7,"yr":81},
      {"mpg":33,"cyl":4,"disp":105,"hp":74,"wt":2190,"acc":14.2,"yr":81},
      {"mpg":34.5,"cyl":4,"disp":100,"hp":0,"wt":2320,"acc":15.8,"yr":81},
      {"mpg":33.7,"cyl":4,"disp":107,"hp":75,"wt":2210,"acc":14.4,"yr":81},
      {"mpg":32.4,"cyl":4,"disp":108,"hp":75,"wt":2350,"acc":16.8,"yr":81},
      {"mpg":32.9,"cyl":4,"disp":119,"hp":100,"wt":2615,"acc":14.8,"yr":81},
      {"mpg":31.6,"cyl":4,"disp":120,"hp":74,"wt":2635,"acc":18.3,"yr":81},
      {"mpg":28.1,"cyl":4,"disp":141,"hp":80,"wt":3230,"acc":20.4,"yr":81},
      {"mpg":0,"cyl":4,"disp":121,"hp":110,"wt":2800,"acc":15.4,"yr":81},
      {"mpg":30.7,"cyl":6,"disp":145,"hp":76,"wt":3160,"acc":19.6,"yr":81},
      {"mpg":25.4,"cyl":6,"disp":168,"hp":116,"wt":2900,"acc":12.6,"yr":81},
      {"mpg":24.2,"cyl":6,"disp":146,"hp":120,"wt":2930,"acc":13.8,"yr":81},
      {"mpg":22.4,"cyl":6,"disp":231,"hp":110,"wt":3415,"acc":15.8,"yr":81},
      {"mpg":26.6,"cyl":8,"disp":350,"hp":105,"wt":3725,"acc":19,"yr":81},
      {"mpg":20.2,"cyl":6,"disp":200,"hp":88,"wt":3060,"acc":17.1,"yr":81},
      {"mpg":17.6,"cyl":6,"disp":225,"hp":85,"wt":3465,"acc":16.6,"yr":81},
      {"mpg":28,"cyl":4,"disp":112,"hp":88,"wt":2605,"acc":19.6,"yr":82},
      {"mpg":27,"cyl":4,"disp":112,"hp":88,"wt":2640,"acc":18.6,"yr":82},
      {"mpg":34,"cyl":4,"disp":112,"hp":88,"wt":2395,"acc":18,"yr":82},
      {"mpg":31,"cyl":4,"disp":112,"hp":85,"wt":2575,"acc":16.2,"yr":82},
      {"mpg":29,"cyl":4,"disp":135,"hp":84,"wt":2525,"acc":16,"yr":82},
      {"mpg":27,"cyl":4,"disp":151,"hp":90,"wt":2735,"acc":18,"yr":82},
      {"mpg":24,"cyl":4,"disp":140,"hp":92,"wt":2865,"acc":16.4,"yr":82},
      {"mpg":23,"cyl":4,"disp":151,"hp":0,"wt":3035,"acc":20.5,"yr":82},
      {"mpg":36,"cyl":4,"disp":105,"hp":74,"wt":1980,"acc":15.3,"yr":82},
      {"mpg":37,"cyl":4,"disp":91,"hp":68,"wt":2025,"acc":18.2,"yr":82},
      {"mpg":31,"cyl":4,"disp":91,"hp":68,"wt":1970,"acc":17.6,"yr":82},
      {"mpg":38,"cyl":4,"disp":105,"hp":63,"wt":2125,"acc":14.7,"yr":82},
      {"mpg":36,"cyl":4,"disp":98,"hp":70,"wt":2125,"acc":17.3,"yr":82},
      {"mpg":36,"cyl":4,"disp":120,"hp":88,"wt":2160,"acc":14.5,"yr":82},
      {"mpg":36,"cyl":4,"disp":107,"hp":75,"wt":2205,"acc":14.5,"yr":82},
      {"mpg":34,"cyl":4,"disp":108,"hp":70,"wt":2245,"acc":16.9,"yr":82},
      {"mpg":38,"cyl":4,"disp":91,"hp":67,"wt":1965,"acc":15,"yr":82},
      {"mpg":32,"cyl":4,"disp":91,"hp":67,"wt":1965,"acc":15.7,"yr":82},
      {"mpg":38,"cyl":4,"disp":91,"hp":67,"wt":1995,"acc":16.2,"yr":82},
      {"mpg":25,"cyl":6,"disp":181,"hp":110,"wt":2945,"acc":16.4,"yr":82},
      {"mpg":38,"cyl":6,"disp":262,"hp":85,"wt":3015,"acc":17,"yr":82},
      {"mpg":26,"cyl":4,"disp":156,"hp":92,"wt":2585,"acc":14.5,"yr":82},
      {"mpg":22,"cyl":6,"disp":232,"hp":112,"wt":2835,"acc":14.7,"yr":82},
      {"mpg":32,"cyl":4,"disp":144,"hp":96,"wt":2665,"acc":13.9,"yr":82},
      {"mpg":36,"cyl":4,"disp":135,"hp":84,"wt":2370,"acc":13,"yr":82},
      {"mpg":27,"cyl":4,"disp":151,"hp":90,"wt":2950,"acc":17.3,"yr":82},
      {"mpg":27,"cyl":4,"disp":140,"hp":86,"wt":2790,"acc":15.6,"yr":82},
      {"mpg":44,"cyl":4,"disp":97,"hp":52,"wt":2130,"acc":24.6,"yr":82},
      {"mpg":32,"cyl":4,"disp":135,"hp":84,"wt":2295,"acc":11.6,"yr":82},
      {"mpg":28,"cyl":4,"disp":120,"hp":79,"wt":2625,"acc":18.6,"yr":82},
      {"mpg":31,"cyl":4,"disp":119,"hp":82,"wt":2720,"acc":19.4,"yr":82}
    ]
  },
  "encoding": {
    "x": {
      "field": "pos", "type": "quantitative",
      "scale": {"domain": [0, 6], "range": [34.5, 623]},
      "axis": null
    }
  },
  "layer": [
    {
      "data": {"name": "cars"},
      "transform": [
        {"window": [{"op": "row_number", "as": "car"}]},
        {"fold": ["mpg", "cyl", "disp", "hp", "wt", "acc", "yr"], "as": ["field", "value"]},
        {"lookup": "field", "from": {"data": {"name": "axes"}, "key": "field", "fields": ["pos", "lo", "hi"]}},
        {"calculate": "min(1, (datum.value - datum.lo) / (datum.hi - datum.lo))", "as": "norm"}
      ],
      "mark": {"type": "line", "color": "#fa842f", "strokeWidth": 1.2},
      "encoding": {
        "y": {"field": "norm", "type": "quantitative", "scale": {"domain": [0, 1], "range": [310.8, 40]}, "axis": null},
        "detail": {"field": "car", "type": "nominal"}
      }
    },
    {
      "data": {"name": "axes"},
      "mark": {"type": "rule", "color": "#44a09b", "strokeWidth": 3.5},
      "encoding": {
        "y": {"datum": -0.006, "type": "quantitative"},
        "y2": {"datum": 1.004}
      }
    },
    {
      "data": {"name": "ticks"},
      "transform": [
        {"lookup": "field", "from": {"data": {"name": "axes"}, "key": "field", "fields": ["pos", "lo", "hi"]}},
        {"calculate": "(datum.v - datum.lo) / (datum.hi - datum.lo)", "as": "norm"}
      ],
      "mark": {"type": "text", "align": "left", "baseline": "middle", "dx": 3.5, "fontWeight": "bold", "color": "#f2f2f2"},
      "encoding": {
        "y": {"field": "norm", "type": "quantitative"},
        "text": {"field": "v", "type": "nominal"},
        "size": {"condition": {"test": "datum.field === 'hp'", "value": 12.5}, "value": 9.5}
      }
    },
    {
      "data": {"name": "axes"},
      "mark": {"type": "text", "align": "center", "baseline": "middle", "fontSize": 12, "fontWeight": "bold", "color": "#ededed"},
      "encoding": {
        "y": {"datum": 1.07, "type": "quantitative"},
        "text": {"field": "title", "type": "nominal"}
      }
    }
  ]
}
